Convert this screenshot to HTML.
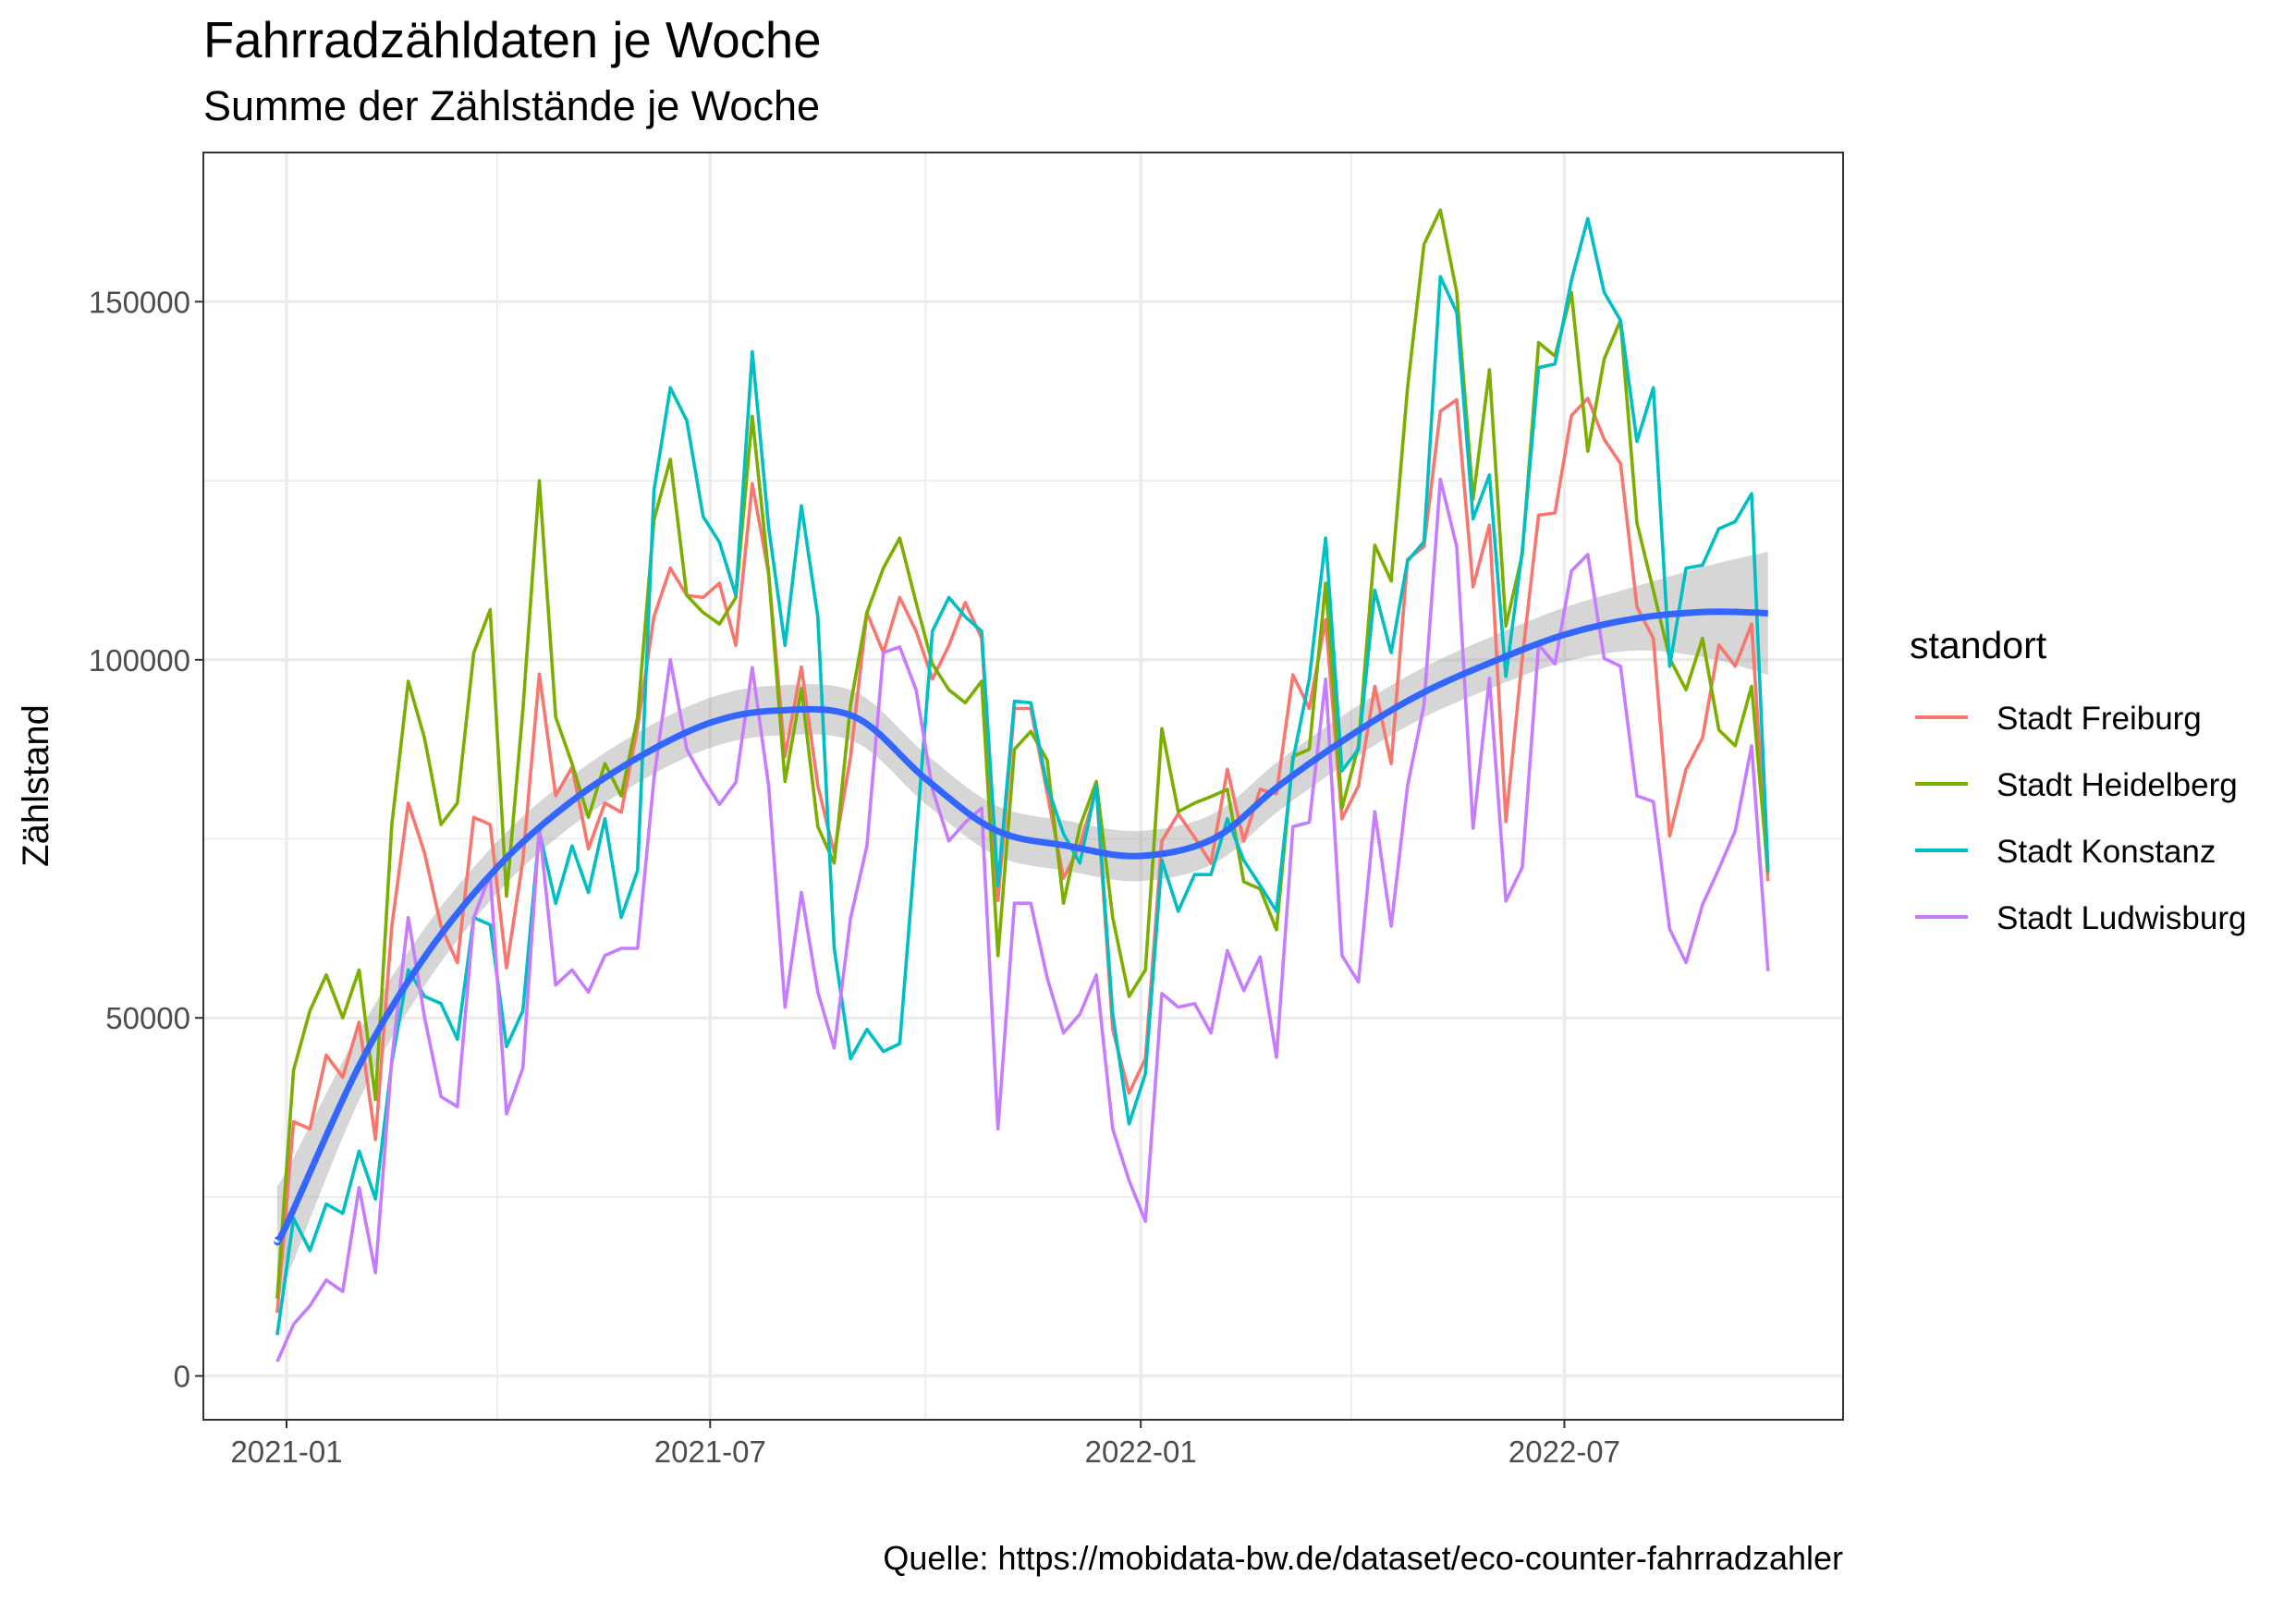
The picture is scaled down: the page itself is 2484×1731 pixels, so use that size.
<!DOCTYPE html>
<html><head><meta charset="utf-8"><style>
html,body{margin:0;padding:0;background:#fff}
svg{display:block;font-family:"Liberation Sans",Arial,sans-serif}
</style></head><body>
<svg id="chart" width="2484" height="1731" viewBox="0 0 2484 1731" xmlns="http://www.w3.org/2000/svg">
<rect width="2484" height="1731" fill="#fff"/>
<text x="220" y="62" font-size="54.5" fill="#000">Fahrradzähldaten je Woche</text>
<text x="220" y="130" font-size="45" fill="#000">Summe der Zählstände je Woche</text>
<g id="grid"></g>
<g id="band"></g>
<g id="series"></g>
<g id="smooth"></g>
<rect x="220" y="165" width="1774" height="1371" fill="none" stroke="#333" stroke-width="2"/>
<g id="axes"></g>
<text transform="translate(52,850) rotate(-90)" text-anchor="middle" font-size="40" fill="#000">Zählstand</text>
<g>
<text x="2066" y="712" font-size="41" fill="#000">standort</text>
<g id="legend-entries"></g>
</g>
<text x="1994" y="1698" text-anchor="end" font-size="36" fill="#000">Quelle: https://mobidata-bw.de/dataset/eco-counter-fahrradzahler</text>
</svg>
<script>
const seriesNames = ["Stadt Freiburg","Stadt Heidelberg","Stadt Konstanz","Stadt Ludwisburg"];
const seriesColors = ["#F8766D","#7CAE00","#00BFC4","#C77CFF"];
const startDate = "2020-12-28";
const freiburg = [8800,35500,34500,44800,41700,49400,33000,62800,80000,73000,62800,57700,78000,77000,57000,72000,98000,81000,85000,73600,80000,78700,90600,106000,112800,109000,108700,110700,102000,124600,112000,86500,99000,82400,73000,86500,106600,101000,108700,104000,97300,102000,108000,103000,66400,93200,93200,81400,69500,74000,82000,48400,39500,44300,74700,78500,75200,71600,84700,74700,81900,81300,97900,93200,105600,77800,82400,96300,85500,114000,115800,134700,136300,110200,118800,77400,100200,120200,120500,134100,136500,130800,127400,107400,103000,75400,84700,89100,102100,99100,105000,69100];
const heidelberg = [10800,42700,51000,56000,50000,56700,38600,77000,97000,89000,77000,80000,101000,107000,67000,93000,125000,92000,85500,78000,85500,81000,92000,119500,128000,109000,106600,105000,108700,134000,112000,83000,96000,76700,71600,93700,106600,112800,117000,108000,99400,95800,94000,97000,58700,87500,90000,86000,66000,76700,83000,64000,53000,56700,90400,78800,80000,80900,81900,69000,68000,62300,86500,87500,110700,79300,88000,116000,111000,138000,158000,162800,151300,122400,140500,104700,114700,144300,142400,151300,129100,142000,147400,119100,109700,100200,95800,103000,90200,88000,96300,70200];
const konstanz = [5700,22000,17500,24000,22700,31400,24700,43800,56700,53000,52000,47000,64000,63000,46000,51000,76000,66000,74000,67500,77800,64000,70600,123600,138000,133400,120000,116400,109000,143000,118500,102000,121500,106000,59700,44300,48400,45300,46400,75000,104000,108700,106000,104000,68500,94200,94000,82400,75700,71600,82400,50500,35200,42200,72000,64900,70000,70000,77800,72000,68500,64900,86000,97300,117000,84500,87500,109700,101000,113800,116500,153500,148500,119700,125800,97700,115200,140800,141300,153000,161600,151300,147400,130500,138000,99100,112800,113200,118300,119300,123200,70500];
const ludwigsburg = [2000,7200,9800,13400,11800,26300,14400,44300,64000,50000,39000,37600,64000,70000,36600,43000,76700,54600,56700,53600,58700,59700,59700,83400,100000,87500,83400,79800,82900,98900,82400,51500,67500,53600,45800,63900,74000,101000,101800,95800,81900,74700,77300,79300,34500,66000,66000,55600,47900,50500,56000,34500,27300,21600,53400,51500,52000,47900,59400,53800,58500,44500,76700,77300,97300,58700,55000,78800,62800,82400,93700,125200,115800,76500,97400,66300,71000,102100,99400,112400,114700,100200,99100,81000,80200,62400,57700,65800,70800,76100,88000,56500];
const smoothDates = ["2020-12-28","2021-01-01","2021-02-01","2021-03-01","2021-04-01","2021-05-01","2021-06-01","2021-07-01","2021-07-29","2021-09-01","2021-10-01","2021-10-31","2021-12-01","2021-12-31","2022-02-01","2022-03-01","2022-04-01","2022-05-01","2022-06-01","2022-07-01","2022-08-01","2022-09-01","2022-09-26"];
const smoothValues = [19000,21100,43300,58500,71000,79800,86500,91200,92900,92000,83400,76200,74000,72600,75000,82400,89500,95300,99800,103500,105800,106700,106500];
const smoothHalfWidth = [8000,7500,4800,4000,3600,3500,3500,3500,3500,3500,3500,3500,3500,3500,3500,3500,3500,3500,3600,3800,4500,6500,8600];
const yTicks = [0,50000,100000,150000];
const yMinor = [25000,75000,125000];
const xTicks = ["2021-01-01","2021-07-01","2022-01-01","2022-07-01"];
const xTickLabels = ["2021-01","2021-07","2022-01","2022-07"];
const xMinor = ["2021-04-01","2021-10-01","2022-04-01"];

const NS = "http://www.w3.org/2000/svg";
const ORIGIN = Date.UTC(2021,0,1);
function dayOf(s){const p=s.split("-");return (Date.UTC(+p[0],+p[1]-1,+p[2])-ORIGIN)/86400000;}
function xS(day){return 310 + day*2.532;}
function yS(v){return 1488.6 - v*0.007748;}
function mk(tag,attrs,parent){const e=document.createElementNS(NS,tag);for(const k in attrs)e.setAttribute(k,attrs[k]);parent.appendChild(e);return e;}
const PL=220,PR=1994,PT=165,PB=1536;
const grid=document.getElementById("grid");
mk("rect",{x:PL,y:PT,width:PR-PL,height:PB-PT,fill:"#fff"},grid);
yMinor.forEach(v=>{const l=mk("line",{x1:PL,x2:PR,y1:yS(v),y2:yS(v),stroke:"#ebebeb","stroke-width":1.8},grid);

});
xMinor.forEach(d=>{const x=xS(dayOf(d));const l=mk("line",{x1:x,x2:x,y1:PT,y2:PB,stroke:"#ebebeb","stroke-width":1.8},grid);

});
yTicks.forEach(v=>{const l=mk("line",{x1:PL,x2:PR,y1:yS(v),y2:yS(v),stroke:"#ebebeb","stroke-width":3.5},grid);

});
xTicks.forEach(d=>{const x=xS(dayOf(d));const l=mk("line",{x1:x,x2:x,y1:PT,y2:PB,stroke:"#ebebeb","stroke-width":3.5},grid);

});

const sx=smoothDates.map(d=>xS(dayOf(d)));
function catmull(pts){let d="M"+pts[0][0]+","+pts[0][1];for(let i=0;i<pts.length-1;i++){const p0=pts[Math.max(0,i-1)],p1=pts[i],p2=pts[i+1],p3=pts[Math.min(pts.length-1,i+2)];
d+=" C"+(p1[0]+(p2[0]-p0[0])/6)+","+(p1[1]+(p2[1]-p0[1])/6)+" "+(p2[0]-(p3[0]-p1[0])/6)+","+(p2[1]-(p3[1]-p1[1])/6)+" "+p2[0]+","+p2[1];}return d;}
const upper=smoothValues.map((v,i)=>[sx[i],yS(v+smoothHalfWidth[i])]);
const lower=smoothValues.map((v,i)=>[sx[i],yS(v-smoothHalfWidth[i])]).reverse();
const bandPath=catmull(upper)+" L"+lower[0][0]+","+lower[0][1]+catmull(lower).replace(/^M[^ ]+/,"")+" Z";
const band=mk("path",{d:bandPath,fill:"#999",opacity:0.4},document.getElementById("band"));



const allSeries=[freiburg,heidelberg,konstanz,ludwigsburg];
const startDay=dayOf(startDate);
const sg=document.getElementById("series");
allSeries.forEach((vals,si)=>{
  const pts=vals.map((v,i)=>xS(startDay+7*i).toFixed(1)+","+yS(v).toFixed(1)).join(" ");
  const pl=mk("polyline",{points:pts,fill:"none",stroke:seriesColors[si],"stroke-width":3.6,"stroke-linejoin":"round"},sg);
  
  
});
const sm=mk("path",{d:catmull(smoothValues.map((v,i)=>[sx[i],yS(v)])),fill:"none",stroke:"#3366FF","stroke-width":7,"stroke-linecap":"butt"},document.getElementById("smooth"));



const ax=document.getElementById("axes");
yTicks.forEach(v=>{const y=yS(v);
  const t=mk("line",{x1:PL-9,x2:PL,y1:y,y2:y,stroke:"#333","stroke-width":2},ax);
  
  
  const tx=mk("text",{x:PL-14,y:y+12,"text-anchor":"end","font-size":33,fill:"#4d4d4d"},ax);tx.textContent=v;
  
  
});
xTicks.forEach((d,i)=>{const x=xS(dayOf(d));
  const t=mk("line",{x1:x,x2:x,y1:PB,y2:PB+9,stroke:"#333","stroke-width":2},ax);
  
  
  const tx=mk("text",{x:x,y:PB+46,"text-anchor":"middle","font-size":33,fill:"#4d4d4d"},ax);tx.textContent=xTickLabels[i];
  
  
});

const lg=document.getElementById("legend-entries");
seriesNames.forEach((n,i)=>{const y=776+72*i;
  const l=mk("line",{x1:2072,x2:2129,y1:y,y2:y,stroke:seriesColors[i],"stroke-width":4},lg);
  
  
  const t=mk("text",{x:2160,y:y+13,"font-size":35,fill:"#000"},lg);t.textContent=n;
  
  
});
</script>
</body></html>
